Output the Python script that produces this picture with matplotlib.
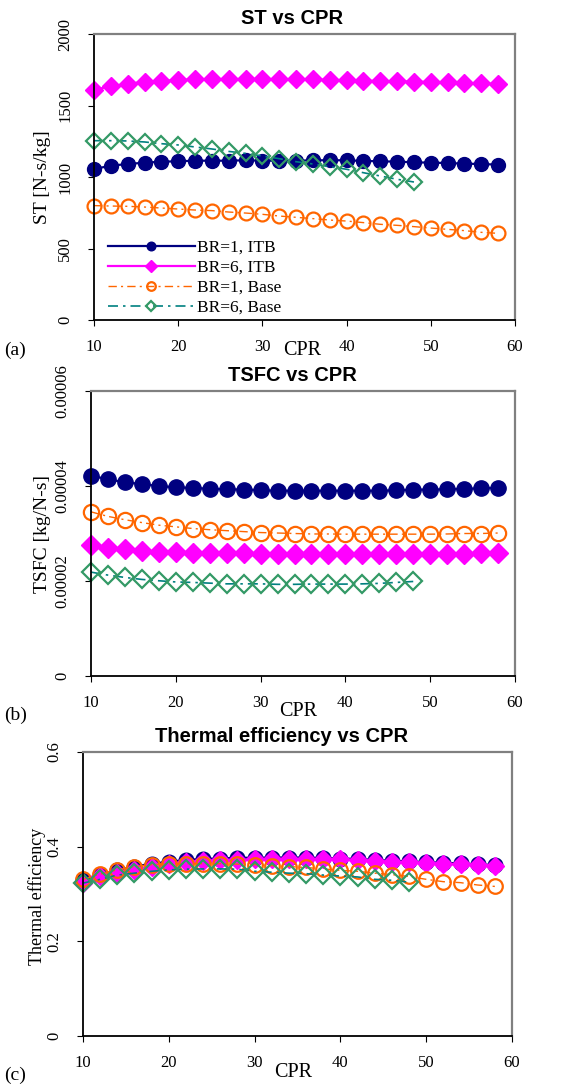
import matplotlib
matplotlib.use("Agg")
import matplotlib.pyplot as plt
import numpy as np

# --- Daten ---
cpr = list(range(10, 60, 2))          # 10 ... 58
cpr_base6 = list(range(10, 50, 2))    # 10 ... 48

labels = ['BR=1, ITB', 'BR=6, ITB', 'BR=1, Base', 'BR=6, Base']

st_br1_itb = [1056, 1079, 1091, 1100, 1107, 1110, 1114, 1114, 1114, 1117, 1114, 1114, 1114,
              1117, 1117, 1117, 1112, 1110, 1107, 1103, 1100, 1098, 1093, 1091, 1086]
st_br6_itb = [1608, 1636, 1650, 1667, 1671, 1678, 1683, 1685, 1685, 1685, 1685, 1685, 1683,
              1683, 1678, 1678, 1674, 1671, 1669, 1667, 1664, 1662, 1657, 1655, 1650]
st_br1_base = [800, 797, 795, 790, 783, 776, 769, 765, 755, 748, 739, 727, 718,
               709, 699, 692, 681, 669, 662, 653, 643, 634, 625, 613, 606]
st_br6_base = [1254, 1254, 1252, 1245, 1233, 1224, 1210, 1196, 1179, 1165, 1147, 1128, 1107,
               1091, 1072, 1054, 1030, 1007, 984, 965]

tsfc_br1_itb = [4.22e-5, 4.14e-5, 4.08e-5, 4.04e-5, 4.00e-5, 3.97e-5, 3.96e-5, 3.94e-5, 3.93e-5,
                3.925e-5, 3.91e-5, 3.90e-5, 3.90e-5, 3.90e-5, 3.90e-5, 3.90e-5, 3.90e-5, 3.90e-5,
                3.91e-5, 3.92e-5, 3.925e-5, 3.93e-5, 3.94e-5, 3.95e-5, 3.96e-5]
tsfc_br6_itb = [2.755e-5, 2.70e-5, 2.67e-5, 2.64e-5, 2.62e-5, 2.61e-5, 2.59e-5, 2.586e-5, 2.58e-5,
                2.58e-5, 2.57e-5, 2.57e-5, 2.57e-5, 2.57e-5, 2.57e-5, 2.57e-5, 2.57e-5, 2.57e-5,
                2.57e-5, 2.57e-5, 2.57e-5, 2.575e-5, 2.575e-5, 2.58e-5, 2.58e-5]
tsfc_br1_base = [3.456e-5, 3.36e-5, 3.29e-5, 3.23e-5, 3.175e-5, 3.14e-5, 3.105e-5, 3.08e-5, 3.06e-5,
                 3.04e-5, 3.02e-5, 3.01e-5, 3.0e-5, 2.99e-5, 2.99e-5, 2.986e-5, 2.986e-5, 2.986e-5,
                 2.986e-5, 2.986e-5, 2.986e-5, 2.99e-5, 3.0e-5, 3.0e-5, 3.01e-5]
tsfc_br6_base = [2.187e-5, 2.124e-5, 2.075e-5, 2.033e-5, 2.005e-5, 1.98e-5, 1.97e-5, 1.955e-5, 1.94e-5,
                 1.94e-5, 1.94e-5, 1.93e-5, 1.93e-5, 1.935e-5, 1.935e-5, 1.935e-5, 1.94e-5, 1.95e-5,
                 1.97e-5, 1.99e-5]

eta_br1_itb = [0.330, 0.3405, 0.350, 0.358, 0.364, 0.368, 0.372, 0.374, 0.375, 0.3765, 0.3765, 0.377,
               0.377, 0.377, 0.376, 0.375, 0.374, 0.372, 0.370, 0.369, 0.367, 0.366, 0.3645, 0.3625, 0.361]
eta_br6_itb = [0.324, 0.337, 0.345, 0.350, 0.357, 0.364, 0.367, 0.369, 0.371, 0.372, 0.373, 0.374,
               0.374, 0.374, 0.373, 0.373, 0.372, 0.370, 0.368, 0.367, 0.365, 0.364, 0.363, 0.362, 0.359]
eta_br1_base = [0.331, 0.342, 0.351, 0.358, 0.362, 0.364, 0.364, 0.364, 0.364, 0.363, 0.362, 0.360,
                0.358, 0.356, 0.353, 0.350, 0.348, 0.344, 0.341, 0.337, 0.331, 0.326, 0.324, 0.319, 0.316]
eta_br6_base = [0.323, 0.331, 0.340, 0.344, 0.348, 0.351, 0.3525, 0.353, 0.353, 0.3525, 0.348, 0.346,
                0.344, 0.343, 0.340, 0.338, 0.336, 0.331, 0.329, 0.325]

SERIF = 'Liberation Serif'
SANS = 'Liberation Sans'
DASH = (0, (6, 3, 1.5, 3))

def draw_series(ax, y_vals, msize):
    y1, y6, b1, b6 = y_vals
    ax.plot(cpr, y1, color='#000080', lw=1.6, marker='o', ms=msize, mfc='#000080', mec='#000080',
            clip_on=False, label=labels[0])
    ax.plot(cpr, y6, color='#FF00FF', lw=1.6, marker='D', ms=msize * 0.92, mfc='#FF00FF', mec='#FF00FF',
            clip_on=False, label=labels[1])
    ax.plot(cpr, b1, color='#FF6600', lw=1.0, ls=DASH, marker='o', ms=msize, mfc='none', mec='#FF6600',
            mew=1.6, clip_on=False, label=labels[2])
    ax.plot(cpr_base6, b6, color='#008080', lw=1.2, ls=DASH, marker='D', ms=msize * 0.85, mfc='none',
            mec='#339966', mew=1.6, clip_on=False, label=labels[3])

def style_axes(ax, title, title_x, ylabel, ylab_size, ylab_x, ylab_y, xlab_x, xlab_y, yticks, yticklabels):
    ax.set_xlim(10, 60)
    ax.set_xticks(range(10, 61, 10))
    ax.set_ylim(yticks[0], yticks[-1])
    ax.set_yticks(yticks)
    ax.set_yticklabels(yticklabels, rotation=90, va='center', family=SERIF, fontsize=12)
    for t in ax.get_xticklabels():
        t.set_family(SERIF)
        t.set_fontsize(12)
    ax.tick_params(axis='x', direction='out', length=4, pad=10, color='black')
    ax.tick_params(axis='y', direction='out', length=4, pad=11, color='black')
    for s in ['left', 'bottom']:
        ax.spines[s].set_color('black')
        ax.spines[s].set_linewidth(1.3)
    for s in ['top', 'right']:
        ax.spines[s].set_color('#808080')
        ax.spines[s].set_linewidth(1.6)
    ax.set_title(title, x=title_x, pad=7, family=SANS, fontweight='bold', fontsize=14.5)
    ax.set_ylabel(ylabel, family=SERIF, fontsize=ylab_size, va='center')
    ax.yaxis.set_label_coords(ylab_x, ylab_y)
    ax.set_xlabel('CPR', family=SERIF, fontsize=14.5, va='center')
    ax.xaxis.set_label_coords(xlab_x, xlab_y)

W, H = 569, 1087
fig = plt.figure(figsize=(W / 100, H / 100), dpi=100)

def px_axes(left, right, top, bottom):
    return fig.add_axes([left / W, 1 - bottom / H, (right - left) / W, (bottom - top) / H])

# (a) ST vs CPR
ax1 = px_axes(94, 515, 34, 320)
draw_series(ax1, [st_br1_itb, st_br6_itb, st_br1_base, st_br6_base], 10)
style_axes(ax1, 'ST vs CPR', 0.47, 'ST [N-s/kg]', 14, -0.123, 0.5, 0.494, -0.105,
           [0, 500, 1000, 1500, 2000], ['0', '500', '1000', '1500', '2000'])
ax1.legend(loc='lower left', bbox_to_anchor=(0.033, 0.015), frameon=False, borderpad=0, borderaxespad=0,
           handlelength=5.0, handletextpad=0.15, labelspacing=0.22, markerscale=0.62,
           prop={'family': SERIF, 'size': 12.5})

# (b) TSFC vs CPR
ax2 = px_axes(91, 515, 391, 676)
draw_series(ax2, [tsfc_br1_itb, tsfc_br6_itb, tsfc_br1_base, tsfc_br6_base], 11)
style_axes(ax2, 'TSFC vs CPR', 0.474, 'TSFC [kg/N-s]', 14, -0.115, 0.498, 0.488, -0.126,
           [0, 2e-5, 4e-5, 6e-5], ['0', '0.00002', '0.00004', '0.00006'])

# (c) Thermal efficiency vs CPR
ax3 = px_axes(83, 512, 752, 1036)
draw_series(ax3, [eta_br1_itb, eta_br6_itb, eta_br1_base, eta_br6_base], 10.5)
style_axes(ax3, 'Thermal efficiency vs CPR', 0.464, 'Thermal efficiency', 13, -0.108, 0.493, 0.49, -0.13,
           [0, 0.2, 0.4, 0.6], ['0', '0.2', '0.4', '0.6'])

# Panel-Kennzeichnung
for lab, ypx in [('(a)', 350), ('(b)', 715), ('(c)', 1075)]:
    fig.text(4 / W, 1 - ypx / H, lab, family=SERIF, fontsize=14, va='center', ha='left')

fig.savefig('out.png', dpi=100)
